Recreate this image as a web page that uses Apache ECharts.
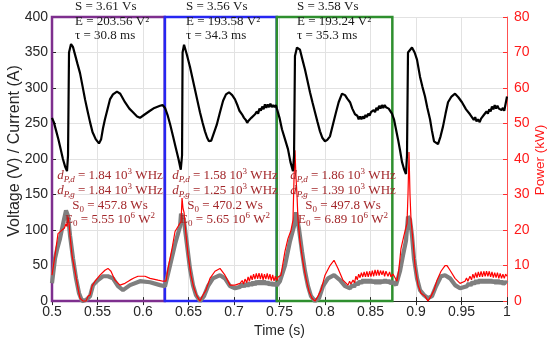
<!DOCTYPE html>
<html><head><meta charset="utf-8">
<script src="https://cdn.jsdelivr.net/npm/echarts@6/dist/echarts.min.js"></script>
<style>html,body{margin:0;padding:0;background:#fff}#c{width:550px;height:343px}</style>
</head><body><div id="c"></div>
<script>
// ---------------- data ----------------
const voltage = [
[0.500,258],[0.502,252],[0.5045,240],[0.507,228],[0.5095,214],[0.512,200],[0.5145,189],[0.5165,183],[0.5176,205],[0.5187,350],[0.5209,362],[0.523,358],[0.5253,347],[0.528,334],[0.5308,321],[0.5335,303],[0.5363,284],[0.539,268],[0.5418,252],[0.5445,238],[0.548,228],[0.5516,222],[0.554,228],[0.556,243],[0.5582,256],[0.561,270],[0.5637,284],[0.567,291],[0.5714,295],[0.575,292],[0.5802,280],[0.585,271],[0.589,266],[0.5935,260],[0.5967,258],[0.601,262],[0.6077,268],[0.6125,272],[0.6187,275],[0.6215,276],[0.6242,272],
[0.627,262],[0.630,248],[0.633,232],[0.636,216],[0.639,200],[0.6415,185],[0.6429,205],[0.6435,350],[0.6451,361],[0.648,348],[0.6516,330],[0.6545,313],[0.6571,298],[0.660,281],[0.6626,266],[0.6655,251],[0.6681,239],[0.6705,230],[0.6725,225],[0.675,226],[0.6769,228],[0.681,248],[0.6846,266],[0.688,282],[0.6912,291],[0.6945,294],[0.698,290],[0.7011,284],[0.704,275],[0.706,268],[0.7088,263],
[0.711,258],[0.713,255],[0.7145,251],[0.716,254],[0.7175,252],[0.719,258],[0.7205,256],[0.7231,263],[0.725,267],[0.7265,264],[0.728,271],[0.7295,268],[0.731,274],[0.7325,270],[0.734,277],[0.7355,272],[0.737,277],[0.7385,273],[0.740,278],[0.7415,273],[0.743,276],[0.7445,273],[0.746,276],[0.7473,274],
[0.750,258],[0.7527,242],[0.756,228],[0.7593,214],[0.762,196],[0.7648,183],[0.766,205],[0.767,345],[0.7692,357],[0.7725,354],[0.7752,340],[0.778,326],[0.7808,310],[0.7835,294],[0.7862,280],[0.789,266],[0.7918,252],[0.7945,239],[0.797,230],[0.800,225],[0.8025,227],[0.8055,232],[0.809,250],[0.8121,266],[0.815,280],[0.8187,292],[0.822,290],[0.8245,285],[0.8275,280],[0.830,271],[0.833,263],
[0.8355,261],[0.837,256],[0.8385,260],[0.840,256],[0.8415,260],[0.843,257],[0.8445,262],[0.846,259],[0.8475,264],[0.849,261],[0.8505,266],[0.852,264],[0.8535,269],[0.855,266],[0.8565,272],[0.858,269],[0.8595,275],[0.861,271],[0.8625,276],[0.864,272],[0.8655,276],[0.867,273],[0.8685,275],[0.870,271],[0.8714,272],
[0.8736,264],[0.8758,256],[0.878,242],[0.8802,228],[0.8825,212],[0.8846,196],[0.8868,186],[0.889,179],[0.8901,205],[0.8912,350],[0.8956,357],[0.8985,350],[0.9011,340],[0.9044,316],[0.907,302],[0.9099,288],[0.9125,272],[0.9154,256],[0.9175,240],[0.9198,225],[0.9242,221],[0.927,232],[0.9297,246],[0.9325,264],[0.9352,280],[0.939,288],[0.9429,292],[0.9465,287],[0.9505,280],[0.955,270],[0.9593,263],[0.962,258],
[0.9635,255],[0.965,259],[0.9665,253],[0.9681,256],[0.970,252],[0.9715,257],[0.973,256],[0.9745,262],[0.976,260],[0.9775,267],[0.979,264],[0.9805,270],[0.982,267],[0.9835,274],[0.985,270],[0.9865,276],[0.988,271],[0.9895,275],[0.991,271],[0.9923,273],[0.994,269],[0.9955,272],[0.997,268],[0.9989,267],[1.000,288]
];

const powerMeasured = [
[0.500,7.3],[0.5033,12.9],[0.5066,19],[0.511,20],[0.5135,20.5],[0.5154,21.8],[0.5165,21],[0.5176,23.8],[0.5187,22],[0.5198,18.5],[0.522,12.9],[0.5253,8.4],[0.5286,3.6],[0.5308,0.8],[0.5341,0],[0.5374,0],[0.5396,1.4],[0.5418,1.7],[0.544,4.2],[0.5473,5.6],[0.5527,7.3],[0.5582,8.7],[0.5615,9.2],[0.5648,8.4],[0.5692,5.9],[0.5747,4.5],[0.5802,5],[0.5857,5.9],[0.590,6.5],[0.5945,7],[0.6022,7],[0.6077,6.4],[0.6165,5.9],[0.622,5.6],[0.6253,5.6],
[0.6275,9.2],[0.6319,14.8],[0.6352,19.6],[0.6385,21],[0.6418,22.4],[0.6429,29],[0.644,26],[0.6451,25],[0.6473,18.5],[0.6495,13],[0.6527,7.3],[0.656,3.6],[0.6593,1.4],[0.6626,0],[0.6659,1.7],[0.6692,3.1],[0.6736,6.4],[0.6791,8.4],[0.6846,9.2],[0.6901,7.3],[0.6956,4.5],[0.7011,4.5],[0.7066,5],
[0.709,5.8],[0.7105,4.8],[0.7121,6.2],[0.714,5.2],[0.7155,6.8],[0.717,5.6],[0.7185,7.2],[0.720,6],[0.7215,7.6],[0.723,6.2],[0.7245,7.8],[0.726,6.3],[0.7275,7.9],[0.729,6.2],[0.7305,7.8],[0.732,6],[0.7335,7.6],[0.735,6.2],[0.7365,7.8],[0.738,6.1],[0.7395,7.6],[0.741,5.8],[0.7425,7.4],[0.744,5.6],[0.7455,7],[0.747,5.8],[0.7485,6.8],[0.7505,6.4],
[0.7516,7.3],[0.756,14],[0.7593,17.6],[0.7626,19.9],[0.7648,22.7],[0.766,35],[0.767,42.5],[0.7681,35],[0.7692,30],[0.7703,23],[0.7725,16.8],[0.7758,11],[0.7791,6.4],[0.7824,2.8],[0.7857,0.8],[0.789,0],[0.7923,1.4],[0.7956,3.1],[0.800,7.3],[0.8055,10],[0.8099,11.5],[0.8143,9.2],[0.8198,5.9],[0.8253,4.5],
[0.827,5.6],[0.8285,4.8],[0.8308,5.9],[0.8325,5.2],[0.834,7],[0.8355,6],[0.837,7.6],[0.8385,6.6],[0.840,8],[0.8415,6.8],[0.843,8.2],[0.8445,6.8],[0.846,8.4],[0.8475,6.8],[0.849,8.4],[0.8505,6.9],[0.852,8.6],[0.8535,7],[0.855,8.8],[0.8565,7.2],[0.858,8.8],[0.8595,7.2],[0.861,8.6],[0.8626,7.4],[0.864,8.6],[0.8655,7],[0.867,8.4],[0.8692,7],[0.871,8.2],[0.8725,6.8],[0.8747,7.6],[0.8765,6.8],[0.878,7.3],
[0.8791,5.6],[0.8813,9.2],[0.8835,14.8],[0.8868,18.5],[0.8901,21.8],[0.8912,30],[0.8923,42],[0.8934,30],[0.8945,23],[0.8967,16.8],[0.8989,10],[0.9022,4.5],[0.9055,2.2],[0.9099,1.4],[0.9132,0],[0.9165,1.4],[0.9198,3.1],[0.9231,5.9],[0.9275,8.4],[0.9319,10],[0.9341,10],[0.9374,8.7],[0.9429,6.4],[0.9484,5],[0.9538,5.6],
[0.9555,6.5],[0.957,5.6],[0.9593,7],[0.961,6],[0.9625,7.6],[0.964,6.4],[0.9655,8],[0.967,6.6],[0.9685,8.2],[0.970,6.8],[0.9715,8.4],[0.973,6.8],[0.9745,8.4],[0.976,7],[0.9775,8.4],[0.979,7],[0.9805,8.4],[0.982,6.8],[0.9835,8.2],[0.985,6.6],[0.9865,8],[0.988,6.6],[0.9895,8],[0.991,6.4],[0.9925,7.8],[0.994,6.4],[0.9955,7.6],[0.997,6.4],[0.9985,7.6],[1.000,7]
];

const powerEstimated = [
[0.500,5],[0.5033,12],[0.506,15],[0.5088,17.6],[0.5132,23],[0.5154,25.5],[0.5176,24],[0.5198,18.5],[0.5231,12],[0.5264,6.4],[0.5297,2.2],[0.533,0],[0.5374,0.3],[0.5418,1.4],[0.5451,4.5],[0.5505,5.9],[0.556,7],[0.5615,7],[0.567,6.4],[0.5725,4.2],[0.578,3.1],[0.5857,4.5],[0.5967,5.6],[0.6077,5.3],[0.6187,4.5],[0.6242,4.2],
[0.6297,10],[0.6352,16],[0.6407,21],[0.6418,24.6],[0.6451,22.4],[0.6484,15.7],[0.6516,9.2],[0.6549,4.5],[0.6582,1.7],[0.6626,0],[0.667,1.4],[0.6714,4.2],[0.6769,6.4],[0.6846,7.3],[0.6901,6.4],[0.6956,4.2],[0.7011,3.6],[0.7066,4],
[0.709,4.8],[0.711,4],[0.713,5],[0.715,4.2],[0.717,5.2],[0.719,4.4],[0.721,5.4],[0.723,4.6],[0.725,5.6],[0.727,4.8],[0.729,5.6],[0.731,4.8],[0.733,5.6],[0.735,4.8],[0.737,5.4],[0.739,4.6],[0.741,5.2],[0.743,4.4],[0.745,5],[0.747,4.4],[0.7505,5.6],
[0.7516,5.6],[0.756,10],[0.7615,16.8],[0.7659,21],[0.7681,25],[0.7714,20.4],[0.7747,14],[0.778,8.4],[0.7813,4.2],[0.7846,1.4],[0.789,0],[0.7934,0.8],[0.7978,4.2],[0.8033,6.4],[0.8099,7.3],[0.8165,5.9],[0.822,4.2],[0.8275,3.6],
[0.830,4.6],[0.832,4],[0.834,5.2],[0.836,4.6],[0.838,5.6],[0.840,5],[0.842,6],[0.844,5.2],[0.846,6],[0.848,5.2],[0.850,6],[0.852,5.2],[0.854,5.8],[0.856,5],[0.858,5.8],[0.860,5],[0.862,5.8],[0.864,5.2],[0.866,6],[0.868,5.2],[0.870,5.8],[0.872,5],[0.8745,5.4],[0.878,4.5],
[0.8791,4.5],[0.8824,8.4],[0.8857,12.9],[0.889,17],[0.8912,23.8],[0.8934,23],[0.8956,18.5],[0.8978,12],[0.9011,6.4],[0.9044,3.1],[0.9088,1.7],[0.9132,0.8],[0.9176,1.4],[0.922,4.2],[0.9275,7],[0.9319,7.3],[0.9374,6.4],[0.9429,4.5],[0.9484,3.6],[0.956,4.2],
[0.958,5],[0.960,4.4],[0.962,5.4],[0.964,4.8],[0.966,5.8],[0.968,5],[0.970,6],[0.972,5.2],[0.974,6],[0.976,5.2],[0.978,6],[0.980,5.2],[0.982,6],[0.984,5.2],[0.986,5.8],[0.988,5],[0.990,5.8],[0.992,5],[0.994,5.6],[0.996,4.8],[0.998,5.4],[1.000,5]
];

// window boundaries (s)
const boxEdges = [0.5, 0.624, 0.747, 0.874];

// annotation texts
const sValues = ['3.61', '3.56', '3.58'];
const eValues = ['203.56', '193.58', '193.24'];
const tauValues = ['30.8', '34.3', '35.3'];
const dPdValues = ['1.84', '1.58', '1.86'];
const dPgValues = ['1.84', '1.25', '1.39'];
const s0Values = ['457.8', '470.2', '497.8'];
const e0Values = ['5.55', '5.65', '6.89'];
const leftAxisTitle = 'Voltage (V) / Current (A)';
const rightAxisTitle = 'Power (kW)';
const bottomAxisTitle = 'Time (s)';

// ---------------- chart ----------------
const sans = 'Arial, "Liberation Sans", Helvetica, sans-serif';
const serif = '"Liberation Serif", "Times New Roman", serif';
const axisCol = '#262626';
const boxColors = ['#7E2F8E', '#2626F2', '#2E8F2E'];
const noteRed = '#A3282B';

const chart = echarts.init(document.getElementById('c'));

const markAreas = [];
for (let i = 0; i < 3; i++) {
  markAreas.push([
    { xAxis: boxEdges[i], yAxis: 0, itemStyle: { color: 'rgba(0,0,0,0)', borderColor: boxColors[i], borderWidth: 2.5 } },
    { xAxis: boxEdges[i + 1], yAxis: 400 }
  ]);
}

const graphics = [];
const topX = [75, 186, 297];
const topY = [7, 21.5, 36];
const redX = [110, 225, 343];
const redY = [176, 191, 205.5, 220];
const richSet = {
  i: { fontFamily: serif, fontSize: 13, fontStyle: 'italic', fill: noteRed },
  sub: { fontFamily: serif, fontSize: 9, fontStyle: 'italic', fill: noteRed, verticalAlign: 'bottom', lineHeight: 17 },
  sub0: { fontFamily: serif, fontSize: 9, fill: noteRed, verticalAlign: 'bottom', lineHeight: 17 },
  sup: { fontFamily: serif, fontSize: 9, fill: noteRed, verticalAlign: 'top', lineHeight: 17 }
};
for (let k = 0; k < 3; k++) {
  const topLines = ['S = ' + sValues[k] + ' Vs', 'E = ' + eValues[k] + ' V\u00B2', '\u03C4 = ' + tauValues[k] + ' ms'];
  topLines.forEach((t, j) => {
    graphics.push({
      type: 'text', x: topX[k], y: topY[j], z: 100,
      style: { text: t, fontFamily: serif, fontSize: 13, fill: '#1a1a1a', align: 'left', verticalAlign: 'middle', textAlign: 'left', textVerticalAlign: 'middle' }
    });
  });
  const redLines = [
    '{i|d}{sub|P,d} = ' + dPdValues[k] + ' 10{sup|3} WHz',
    '{i|d}{sub|P,g} = ' + dPgValues[k] + ' 10{sup|3} WHz',
    'S{sub0|0} = ' + s0Values[k] + ' Ws',
    'E{sub0|0} = ' + e0Values[k] + ' 10{sup|6} W{sup|2}'
  ];
  redLines.forEach((t, j) => {
    graphics.push({
      type: 'text', x: redX[k], y: redY[j], z: 100,
      style: { text: t, fontFamily: serif, fontSize: 13, fill: noteRed, align: 'center', verticalAlign: 'middle', textAlign: 'center', textVerticalAlign: 'middle', lineHeight: 17, rich: richSet }
    });
  });
}
// axis titles (rotated)
graphics.push({
  type: 'text', x: 15, y: 151, rotation: Math.PI / 2, z: 100,
  style: { text: leftAxisTitle, fontFamily: sans, fontSize: 16, fill: axisCol, align: 'center', verticalAlign: 'middle', textAlign: 'center', textVerticalAlign: 'middle' }
});
graphics.push({
  type: 'text', x: 540, y: 160, rotation: Math.PI / 2, z: 100,
  style: { text: rightAxisTitle, fontFamily: sans, fontSize: 13.5, fill: '#ff1a1a', align: 'center', verticalAlign: 'middle', textAlign: 'center', textVerticalAlign: 'middle' }
});

const option = {
  animation: false,
  backgroundColor: '#ffffff',
  grid: { left: 52, right: 43, top: 17, bottom: 40 },
  xAxis: [{
    type: 'value', min: 0.5, max: 1, interval: 0.05,
    axisLine: { lineStyle: { color: axisCol, width: 1 } },
    axisTick: { inside: true, length: 4, lineStyle: { color: axisCol } },
    axisLabel: { color: axisCol, fontSize: 14, fontFamily: sans, margin: 4, formatter: v => String(+v.toFixed(2)) },
    splitLine: { show: true, lineStyle: { color: '#e2e2e2', width: 1 } },
    name: bottomAxisTitle, nameLocation: 'middle', nameGap: 22,
    nameTextStyle: { color: axisCol, fontSize: 14, fontFamily: sans }
  }, {
    type: 'value', position: 'top', min: 0.5, max: 1, interval: 0.05,
    axisLine: { lineStyle: { color: axisCol, width: 1 } },
    axisTick: { inside: true, length: 4, lineStyle: { color: axisCol } },
    axisLabel: { show: false }, splitLine: { show: false }
  }],
  yAxis: [{
    type: 'value', min: 0, max: 400, interval: 50,
    axisLine: { show: true, lineStyle: { color: axisCol } },
    axisTick: { show: true, inside: true, length: 4, lineStyle: { color: axisCol } },
    axisLabel: { color: axisCol, fontSize: 14, fontFamily: sans, margin: 4 },
    splitLine: { show: true, lineStyle: { color: '#e2e2e2', width: 1 } }
  }, {
    type: 'value', min: 0, max: 80, interval: 10, position: 'right',
    axisLine: { show: true, lineStyle: { color: '#ff5050' } },
    axisTick: { show: true, inside: true, length: 4, lineStyle: { color: '#ff3030' } },
    axisLabel: { color: '#ff1a1a', fontSize: 14, fontFamily: sans, margin: 7 },
    splitLine: { show: false }
  }],
  series: [
    { name: 'Power estimate', type: 'line', yAxisIndex: 1, data: powerEstimated, showSymbol: false, symbol: 'none',
      lineStyle: { color: '#7f7f7f', width: 4.2 }, z: 2 },
    { name: 'Power', type: 'line', yAxisIndex: 1, data: powerMeasured, showSymbol: false, symbol: 'none',
      lineStyle: { color: '#ff0000', width: 1.2 }, z: 3 },
    { name: 'Voltage', type: 'line', yAxisIndex: 0, data: voltage, showSymbol: false, symbol: 'none',
      lineStyle: { color: '#000000', width: 2.2 }, z: 4 },
    { name: 'Windows', type: 'line', yAxisIndex: 0, data: [], z: 5,
      markArea: { silent: true, data: markAreas } }
  ],
  graphic: graphics
};
chart.setOption(option);
</script>
</body></html>
